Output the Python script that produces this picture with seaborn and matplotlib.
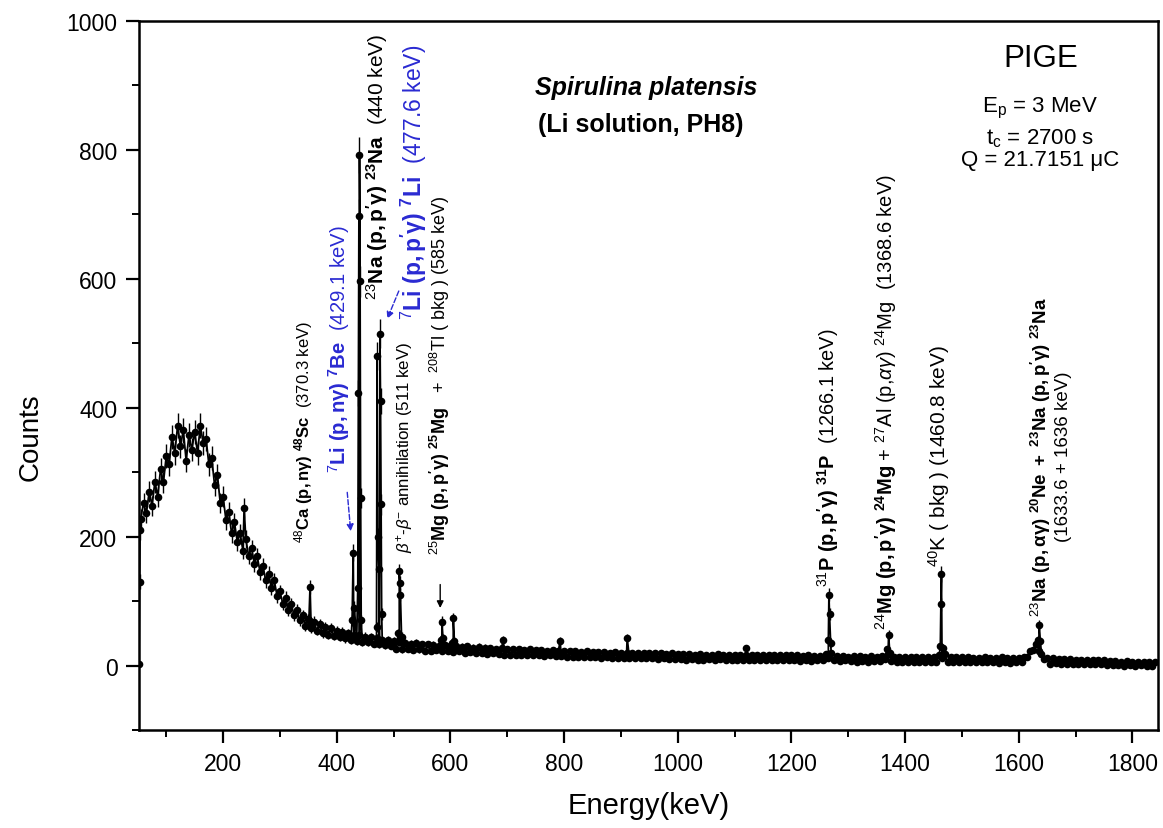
import numpy as np
import pandas as pd
import matplotlib
matplotlib.use("Agg")
import matplotlib.pyplot as plt
import seaborn as sns
from matplotlib.ticker import MultipleLocator

# background continuum, one value every 5 keV from 55 to 1840 keV
bg_start, bg_stop, bg_step = 55, 1840, 5
bg_counts = [
    228, 252, 236, 270, 248, 285, 262, 305, 284, 325,
    312, 355, 330, 372, 340, 365, 318, 358, 335, 362,
    330, 372, 345, 352, 312, 322, 280, 296, 252, 262,
    226, 238, 205, 222, 192, 205, 178, 196, 170, 182,
    158, 170, 145, 155, 132, 142, 120, 132, 108, 115,
    96, 105, 86, 95, 78, 86, 70, 78, 62, 72,
    58, 68, 54, 64, 50, 60, 48, 58, 46, 54,
    44, 52, 42, 50, 40, 48, 38, 47, 37, 45,
    36, 44, 34, 42, 33, 40, 32, 39, 31, 38,
    26, 36, 25, 35, 26, 34, 24, 35, 25, 33,
    23, 33, 22, 32, 24, 31, 22, 32, 23, 30,
    21, 30, 22, 29, 20, 30, 21, 28, 20, 29,
    19, 28, 18, 27, 19, 26, 18, 27, 17, 26,
    17, 25, 16, 26, 17, 24, 16, 25, 16, 24,
    16, 24, 15, 23, 16, 24, 15, 23, 15, 22,
    14, 22, 13, 22, 14, 21, 13, 22, 13, 21,
    13, 21, 12, 21, 13, 20, 12, 21, 12, 20,
    12, 20, 11, 20, 12, 19, 11, 20, 11, 19,
    11, 19, 10, 19, 11, 18, 10, 19, 10, 18,
    10, 18, 9, 18, 10, 17, 9, 18, 9, 17,
    10, 17, 9, 18, 10, 17, 9, 17, 9, 17,
    9, 17, 8, 17, 9, 16, 8, 17, 8, 16,
    9, 16, 8, 17, 9, 16, 8, 16, 8, 16,
    8, 16, 7, 15, 8, 16, 7, 15, 8, 15,
    8, 18, 12, 20, 8, 15, 7, 15, 8, 14,
    7, 15, 6, 15, 7, 14, 6, 15, 7, 14,
    7, 15, 10, 18, 7, 14, 6, 14, 6, 14,
    6, 14, 5, 14, 6, 13, 5, 14, 6, 13,
    6, 16, 12, 18, 6, 13, 5, 13, 5, 13,
    5, 13, 5, 12, 6, 12, 5, 13, 5, 12,
    5, 12, 4, 13, 5, 12, 4, 12, 5, 12,
    6, 13, 14, 22, 24, 34, 22, 18, 10, 11,
    3, 11, 4, 10, 3, 10, 3, 10, 3, 9,
    2, 9, 3, 9, 2, 8, 2, 9, 2, 8,
    1, 7, 1, 7, 1, 6, 0, 7, 1, 6,
    0, 6, 1, 5, 0, 5, 0, 5,
]

# gamma peaks and spikes
peak_energy = [52, 53, 54, 237,
               351, 353, 355, 427, 429, 431,
               437, 438, 439, 440, 441, 442, 443,
               470, 471, 472, 474, 476, 477, 478, 479,
               508, 510, 511, 512, 514, 583, 585, 587, 603, 605, 607,
               693, 793, 911, 1120,
               1265, 1266, 1267, 1269, 1369, 1371, 1373,
               1462, 1463, 1464, 1466, 1634, 1636, 1638]
peak_counts = [2, 130, 210, 245,
               70, 122, 65, 70, 175, 90,
               120, 423, 697, 792, 596, 260, 70,
               60, 480, 200, 150, 515, 410, 250, 80,
               50, 146, 128, 110, 45, 40, 68, 42, 35, 73, 38,
               40, 38, 43, 27,
               40, 110, 80, 35, 25, 48, 20,
               30, 95, 142, 28, 40, 63, 38]

BLUE = "#2a2ad2"

sns.set_style("ticks")
plt.rcParams["font.family"] = ["Liberation Sans", "DejaVu Sans"]
plt.rcParams["mathtext.fontset"] = "custom"
plt.rcParams["mathtext.rm"] = "Liberation Sans"
plt.rcParams["mathtext.it"] = "Liberation Sans:italic"
plt.rcParams["mathtext.bf"] = "Liberation Sans:bold"
for key in ["text.color", "axes.labelcolor", "xtick.color", "ytick.color", "axes.edgecolor"]:
    plt.rcParams[key] = "black"

bg_energy = np.arange(bg_start, bg_stop + 1, bg_step)
assert len(bg_energy) == len(bg_counts)
spec = pd.DataFrame({
    "energy": np.concatenate([bg_energy, peak_energy]),
    "counts": np.concatenate([bg_counts, peak_counts]),
}).sort_values("energy")

fig = plt.figure(figsize=(11.63, 8.29), dpi=100)
ax = fig.add_axes([0.1195, 0.1182, 0.8762, 0.8553])

# poisson error bars under the points
ax.errorbar(spec["energy"], spec["counts"], yerr=np.sqrt(spec["counts"]),
            fmt="none", ecolor="black", elinewidth=1.0)
sns.lineplot(data=spec, x="energy", y="counts", ax=ax, color="black",
             linewidth=1.3, marker="o", markersize=5.5, markeredgewidth=0,
             estimator=None, sort=True)

ax.set_xlim(52, 1845)
ax.set_ylim(-100, 1000)
ax.xaxis.set_major_locator(MultipleLocator(200))
ax.xaxis.set_minor_locator(MultipleLocator(100))
ax.yaxis.set_major_locator(MultipleLocator(200))
ax.yaxis.set_minor_locator(MultipleLocator(100))
ax.tick_params(which="major", length=9.5, width=1.6, labelsize=16.5, direction="out", pad=6)
ax.tick_params(which="minor", length=5, width=1.4, direction="out")
for sp in ax.spines.values():
    sp.set_linewidth(1.8)
ax.set_xlabel("Energy(keV)", fontsize=21, labelpad=12)
ax.set_ylabel("Counts", fontsize=20)
ax.yaxis.set_label_coords(-0.094, 0.415)

# rotated peak labels, anchored at their lower end
rot = dict(rotation=90, ha="center", va="bottom")
ax.text(342, 191, r"$^{48}\mathbf{Ca\ (p,n\gamma)\ ^{48}Sc}$  (370.3 keV)",
        fontsize=12, color="black", **rot)
ax.text(404, 300, r"$^{7}\mathbf{Li\ (p,n\gamma)\ ^{7}Be}$  (429.1 keV)",
        fontsize=14.6, color=BLUE, **rot)
ax.text(471, 568, r"$^{23}\mathbf{Na\ (p,p'\gamma)\ ^{23}Na}$  (440 keV)",
        fontsize=15, color="black", **rot)
ax.text(535, 537, r"$^{7}\mathbf{Li\ (p,p'\gamma)\ ^{7}Li}$  (477.6 keV)",
        fontsize=16.5, color=BLUE, **rot)
ax.text(520, 176, r"$\beta^{+}$-$\beta^{-}$ annihilation (511 keV)",
        fontsize=12.2, color="black", **rot)
ax.text(582, 173, r"$^{25}\mathbf{Mg\ (p,p'\gamma)\ ^{25}Mg}$   +  $^{208}$Tl ( bkg ) (585 keV)",
        fontsize=13, color="black", **rot)
ax.text(1265, 124, r"$^{31}\mathbf{P\ (p,p'\gamma)\ ^{31}P}$  (1266.1 keV)",
        fontsize=14.4, color="black", **rot)
ax.text(1367, 56, r"$^{24}\mathbf{Mg\ (p,p'\gamma)\ ^{24}Mg}$ + $^{27}$Al (p,$\alpha\gamma$) $^{24}$Mg  (1368.6 keV)",
        fontsize=14.5, color="black", **rot)
ax.text(1459, 155, r"$^{40}$K ( bkg ) (1460.8 keV)",
        fontsize=15, color="black", **rot)
ax.text(1656, 77, r"$^{23}\mathbf{Na\ (p,\alpha\gamma)\ ^{20}Ne\ +\ ^{23}Na\ (p,p'\gamma)\ ^{23}Na}$"
        "\n(1633.6 + 1636 keV)", fontsize=13.5, color="black", multialignment="center", **rot)

# arrows
ax.annotate("", xy=(487, 534), xytext=(511, 585),
            arrowprops=dict(arrowstyle="-|>", color=BLUE, linestyle="--", lw=1.0))
ax.annotate("", xy=(425, 204), xytext=(418, 273),
            arrowprops=dict(arrowstyle="-|>", color=BLUE, linestyle="--", lw=1.0))
ax.annotate("", xy=(582, 85), xytext=(582, 130),
            arrowprops=dict(arrowstyle="-|>", color="black", lw=1.0))

# titles
ax.text(749, 897, "Spirulina platensis", ha="left", va="center",
        fontsize=18, fontweight="bold", fontstyle="italic")
ax.text(754, 840, "(Li solution, PH8)", ha="left", va="center",
        fontsize=18, fontweight="bold")
ax.text(1638, 942, "PIGE", ha="center", va="center", fontsize=22.5)
ax.text(1638, 866, r"E$_{\mathrm{p}}$ = 3 MeV", ha="center", va="center", fontsize=16)
ax.text(1638, 819, r"t$_{\mathrm{c}}$ = 2700 s", ha="center", va="center", fontsize=16)
ax.text(1638, 785, "Q = 21.7151 \u03bcC", ha="center", va="center", fontsize=16)

fig.savefig("out.png", dpi=100)
